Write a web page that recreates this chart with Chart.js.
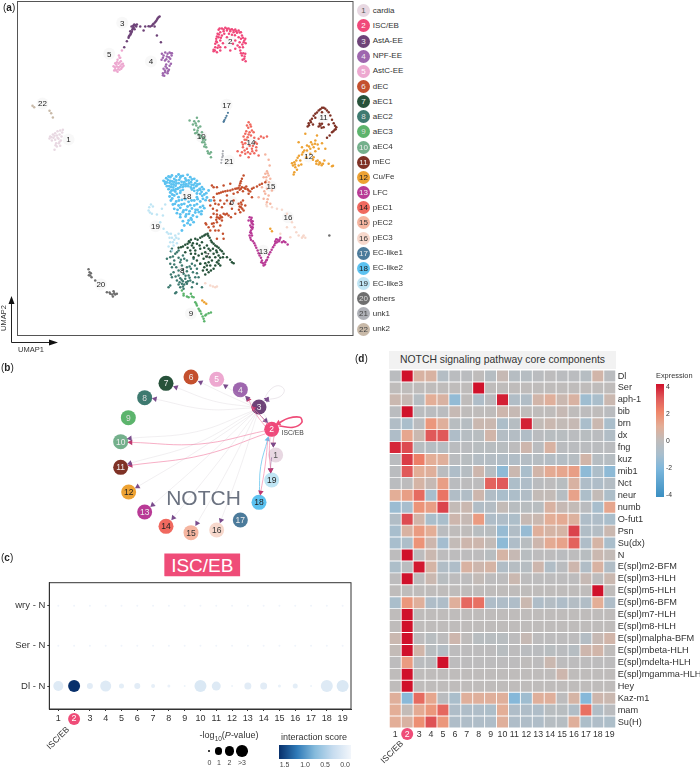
<!DOCTYPE html>
<html>
<head>
<meta charset="utf-8">
<script src="https://cdn.jsdelivr.net/npm/chart.js@4"></script>
<style>
  html, body { margin: 0; padding: 0; background: #fff; }
  #page { position: relative; width: 700px; height: 768px; overflow: hidden; font-family: "Liberation Sans", Arial, sans-serif; color: #333; }
  #page canvas { position: absolute; }
  .txt { position: absolute; white-space: nowrap; line-height: 1; }
  .dot { position: absolute; border-radius: 50%; text-align: center; }
</style>
</head>
<body>
<div id="page">
  <canvas id="umapChart" width="360" height="345" style="left:0;top:0"></canvas>
  <canvas id="netChart" width="240" height="220" style="left:100px;top:345px"></canvas>
  <canvas id="dotChart" width="356" height="155" style="left:0;top:575px"></canvas>
  <canvas id="heatChart" width="320" height="395" style="left:380px;top:360px"></canvas>
  <svg width="70" height="60" style="position:absolute;left:0;top:292px">
    <path d="M11.5 50.5V8M11.5 50.5H50" stroke="#222" stroke-width="1" fill="none"/>
    <path d="M11.5 4L8.5 12H14.5Z M58 50.5L49 47.5V53.5Z" fill="#111"/>
  </svg>
</div>
<script>
// cluster names and colours (shared by panels a, b)
const clusterNames = ['cardia','ISC/EB','AstA-EE','NPF-EE','AstC-EE','dEC','aEC1','aEC2','aEC3','aEC4','mEC','Cu/Fe','LFC','pEC1','pEC2','pEC3','EC-like1','EC-like2','EC-like3','others','unk1','unk2'];
const clusterColors = ['#E8D8E2','#F0487A','#6E4378','#9E66AE','#EDA8D0','#C4502E','#27523A','#3E7A70','#5CB46C','#74B08C','#7F3226','#EDA233','#B93A96','#F0695F','#F5B5A0','#F7D8CC','#4C7B9B','#5CC2F0','#BFE5F4','#6E6E6E','#AEB0B6','#C8B9A8'];
const numberColors = ['#555','#fff','#eee','#eee','#fff','#eee','#eee','#ddd','#ddd','#eee','#eee','#222','#eee','#222','#333','#333','#eee','#222','#222','#ddd','#444','#444'];

// panel a: UMAP points
const umap1 = [[150,408],[158,402],[165,398],[172,392],[180,390],[186,396],[148,414],[160,412],[170,405],[178,402],[184,408],[165,418],[175,415],[155,420],[182,420],[168,428],[176,428],[180,436],[170,438],[163,448],[188,388],[154,410],[163,406],[172,412],[178,424],[166,434]];
const umap2 = [[655,88],[665,84],[675,82],[685,84],[695,86],[705,87],[715,90],[722,95],[652,100],[660,95],[670,92],[680,90],[690,92],[700,95],[710,97],[725,105],[735,115],[648,115],[655,110],[645,130],[650,125],[640,148],[645,140],[655,135],[660,120],[665,105],[730,125],[722,115],[728,140],[735,160],[732,175],[736,182],[725,165],[720,150],[712,135],[705,120],[660,150],[650,155],[675,140],[690,150],[705,145],[680,110],[695,103],[715,110],[736,128],[640,152],[668,128],[727,178],[658,84],[670,87],[680,85],[690,88],[700,90],[708,92],[718,96],[728,112],[732,120],[733,168],[729,158],[726,132],[718,125],[650,108],[656,102],[648,122],[652,142],[662,112],[672,100],[686,100],[704,104],[718,140],[722,158],[644,150],[660,140],[698,130]];
const umap3 = [[380,122],[385,112],[388,105],[392,98],[390,92],[396,88],[400,80],[405,74],[410,72],[398,84],[394,78],[403,86],[420,78],[435,78],[445,77],[455,76],[460,70],[467,62],[472,54],[478,48],[463,78],[470,105],[482,125],[372,140],[430,90],[391,102],[395,94],[399,76],[408,78],[402,72],[458,72],[464,66],[470,58],[475,50],[450,78],[386,108]];
const umap4 = [[485,160],[495,156],[508,156],[514,165],[488,172],[500,168],[510,175],[494,180],[505,183],[512,190],[498,192],[490,205],[500,203],[506,208],[488,218],[495,215],[502,218],[492,226],[515,158],[484,178],[490,165],[502,160],[512,158],[506,170],[498,176],[508,196],[496,198],[494,210],[503,212],[488,224]];
const umap5 = [[365,150],[360,172],[352,178],[362,182],[345,188],[355,190],[368,190],[340,197],[350,198],[360,197],[370,196],[345,206],[354,206],[363,205],[342,210],[352,214],[358,172],[348,192],[356,165],[350,185],[358,186],[364,192],[344,200],[355,200],[348,210],[358,208],[366,200]];
const umap6 = [[640,590],[650,580],[662,576],[675,572],[690,570],[705,565],[715,562],[725,560],[735,565],[745,570],[755,565],[770,558],[785,550],[795,545],[720,548],[725,535],[730,525],[712,575],[700,580],[680,585],[745,580],[755,590],[635,555],[650,560],[670,555],[690,550],[660,600],[645,610],[638,625],[650,630],[665,620],[680,600],[640,640],[650,650],[660,645],[670,640],[680,640],[692,650],[650,665],[635,670],[625,680],[640,678],[655,690],[668,700],[670,715],[650,715],[715,610],[722,620],[730,630],[720,635],[728,600],[735,615],[640,560],[628,600],[632,650],[616,668],[690,610],[705,640],[665,660],[645,690],[718,568],[728,572],[738,558],[665,650],[658,655],[724,612],[656,578],[668,574],[682,571],[697,567],[710,564],[722,565],[732,562],[742,566],[750,573],[760,562],[778,553],[718,555],[722,542],[655,652],[662,650],[675,642],[685,645],[640,668],[648,658],[718,618],[726,625],[716,628],[722,606],[630,615],[642,600],[655,612],[672,610],[650,642],[618,672],[630,690],[660,675],[700,600],[695,625]];
const umap7 = [[535,742],[548,738],[562,730],[572,718],[585,715],[600,712],[612,705],[622,700],[628,712],[635,725],[645,735],[655,742],[665,752],[670,760],[660,772],[650,785],[660,795],[640,805],[625,815],[615,822],[575,735],[590,730],[605,725],[620,735],[600,745],[585,750],[570,750],[555,755],[615,755],[630,750],[640,760],[610,775],[625,785],[635,780],[620,795],[645,770],[595,765],[580,770],[600,790],[612,800],[680,770],[690,778],[700,788],[695,785],[568,725],[578,728],[650,755],[655,765],[542,740],[555,733],[566,722],[592,718],[606,708],[616,702],[624,706],[632,720],[640,730],[650,738],[660,748],[668,770],[655,780],[645,795],[632,810],[620,808],[628,770],[618,768],[605,760],[590,780],[572,760],[562,742],[580,742],[598,735],[612,742],[625,745],[638,745],[648,750],[655,790],[630,795],[615,788],[608,810],[585,760]];
const umap8 = [[515,745],[525,760],[510,770],[522,780],[535,772],[548,765],[560,780],[575,790],[510,790],[528,800],[545,795],[560,800],[520,815],[535,825],[550,820],[565,825],[578,815],[590,805],[530,840],[545,850],[555,835],[570,840],[585,830],[540,860],[550,865],[560,850],[510,855],[505,860],[525,878],[600,790],[590,850],[605,860],[575,860],[515,830],[540,785],[500,775],[580,775],[595,830],[548,842],[556,826],[540,833],[563,842],[528,875],[512,752],[535,750],[518,768],[530,755],[542,778],[552,775],[515,800],[522,792],[535,810],[548,808],[560,812],[572,805],[526,828],[538,845],[552,852],[544,838],[558,845],[568,832],[578,845],[512,822],[568,798],[584,795],[590,818],[535,852],[548,858]];
const umap9 = [[545,870],[550,885],[565,890],[580,890],[585,905],[595,925],[603,940],[610,955],[612,962],[625,938],[632,936],[615,945],[572,880],[590,915],[550,880],[600,932],[607,948],[618,942],[560,888],[575,888],[588,910],[598,930]];
const umap10 = [[590,352],[582,362],[595,362],[578,372],[588,375],[600,378],[582,388],[592,390],[605,395],[585,398],[595,402],[610,410],[600,412],[612,425],[606,425],[618,440],[612,438],[622,452],[628,460],[632,470],[568,360],[632,455],[615,418],[586,368],[594,382],[590,396],[602,405],[608,418],[615,432],[624,458]];
const umap11 = [[965,322],[975,325],[955,330],[985,335],[945,340],[965,335],[935,355],[945,352],[925,368],[932,365],[922,378],[938,372],[990,345],[995,358],[1000,368],[1008,380],[1003,388],[995,395],[988,405],[980,412],[960,375],[965,370],[955,378],[970,380],[985,372],[960,326],[970,322],[950,336],[940,346],[930,360],[926,374],[980,330],[1004,376],[1006,386],[999,392],[958,370],[964,382]];
const umap12 = [[882,485],[875,488],[878,495],[885,500],[890,508],[882,515],[880,522],[895,495],[900,480],[892,472],[905,462],[912,450],[905,440],[920,435],[932,425],[945,420],[952,432],[940,440],[930,445],[945,452],[955,445],[965,428],[940,470],[948,482],[958,485],[968,490],[955,492],[972,480],[995,497],[985,490],[918,470],[895,425],[915,400],[950,405],[975,445],[612,905],[606,900],[618,910],[810,685],[815,692],[930,460],[903,492],[884,492],[888,480],[896,466],[936,432],[926,438],[944,430],[952,480],[960,488],[964,494],[948,490],[938,478],[998,496],[908,455],[920,450]];
const umap13 = [[748,650],[752,658],[755,668],[750,675],[756,685],[750,695],[755,705],[750,712],[758,722],[765,735],[772,750],[778,765],[785,780],[790,795],[795,785],[803,770],[810,755],[818,740],[825,728],[832,718],[840,712],[845,725],[855,725],[862,732],[825,722],[745,660],[757,680],[788,788],[753,664],[758,672],[752,690],[748,705],[783,785],[794,792],[830,725],[836,722],[850,722],[800,778],[754,652],[757,662],[753,680],[753,698],[752,718],[762,728],[768,742],[775,758],[782,772],[798,780],[806,762],[814,748],[822,734],[828,716],[838,718]];
const umap14 = [[745,365],[740,375],[752,378],[738,392],[748,395],[755,390],[730,408],[742,410],[752,405],[762,412],[775,415],[790,412],[800,408],[725,425],[735,428],[765,425],[770,430],[728,440],[740,445],[755,445],[768,440],[725,455],[735,460],[750,460],[762,458],[745,470],[720,465],[712,452],[775,465],[738,418],[760,395],[744,382],[750,372],[735,400],[745,402],[733,418],[758,436],[748,436],[733,450],[743,455],[756,452],[768,450],[782,408],[728,432]];
const umap15 = [[795,462],[805,478],[808,495],[800,512],[795,520],[805,525],[790,530],[810,535],[798,540],[785,560],[800,565],[795,580],[805,585],[790,595],[800,605],[810,610],[815,570],[775,590],[802,518],[798,530],[806,545],[792,572],[802,596]];
const umap16 = [[800,617],[815,620],[830,625],[845,628],[860,640],[875,665],[883,680],[888,695],[895,705],[908,708],[915,712],[870,710],[860,680],[630,855],[645,860],[650,858],[615,848],[798,612],[840,700],[910,705],[905,712],[638,858]];
const umap17 = [[670,364],[673,358],[676,352],[679,346],[683,337],[671,362]];
const umap18 = [[515,525],[535,522],[548,526],[562,523],[498,533],[510,530],[522,535],[540,531],[555,534],[570,530],[582,535],[490,541],[503,538],[516,543],[528,540],[544,544],[558,540],[572,545],[590,541],[495,550],[508,547],[520,552],[535,548],[550,552],[566,549],[580,553],[598,550],[500,557],[512,560],[526,556],[540,560],[556,557],[572,561],[588,557],[605,560],[505,566],[520,569],[532,565],[548,568],[575,567],[592,570],[610,566],[510,576],[525,573],[540,577],[590,579],[604,574],[618,578],[508,588],[522,585],[535,590],[590,590],[606,586],[620,591],[512,600],[528,603],[545,598],[565,604],[582,600],[600,603],[616,599],[518,612],[535,615],[552,610],[570,614],[590,611],[608,616],[522,625],[540,622],[558,628],[575,624],[592,628],[612,623],[530,638],[548,635],[566,640],[585,636],[603,641],[540,650],[556,648],[572,653],[590,649],[548,662],[565,660],[580,665],[552,675],[570,673],[625,570],[632,600],[545,690],[505,528],[528,528],[542,527],[575,537],[494,544],[510,541],[522,544],[537,538],[552,545],[565,540],[585,548],[500,546],[514,552],[528,549],[543,553],[558,551],[574,553],[592,552],[507,557],[519,561],[534,563],[548,559],[564,557],[581,562],[598,565],[514,570],[527,566],[541,571],[582,571],[600,568],[516,582],[530,580],[600,580],[612,582],[516,594],[536,600],[555,596],[574,600],[592,596],[608,595],[524,610],[544,612],[562,618],[582,615],[600,620],[532,628],[550,630],[568,632],[586,628],[604,632],[540,642],[558,642],[578,645],[596,635],[562,668],[574,658]];
const umap19 = [[447,620],[452,612],[445,630],[455,640],[470,642],[485,625],[495,612],[488,645],[480,665],[490,685],[505,700],[515,712],[525,705],[535,715],[510,725],[520,735],[530,728],[505,738],[515,750],[535,700],[458,618],[449,636],[512,700],[522,718],[508,712],[518,725],[528,712],[500,695]];
const umap20 = [[265,806],[268,815],[270,825],[274,830],[285,840],[320,875],[330,880],[340,872],[345,882],[338,888],[350,880],[987,705],[272,818],[266,824],[328,876],[342,878],[336,882]];
const umap21 = [[668,452],[667,460],[666,470],[664,478],[663,487],[668,466]];
const umap22 = [[97,316],[102,320],[148,331],[153,338],[158,351]];
const umapClusters = [umap18,umap19,umap1,umap2,umap3,umap4,umap5,umap6,umap7,umap8,umap9,umap10,umap11,umap12,umap13,umap14,umap15,umap16,umap17,umap20,umap21,umap22];
const umapClusterIds = [18,19,1,2,3,4,5,6,7,8,9,10,11,12,13,14,15,16,17,20,21,22];
const umapLabelPos = [[205,417],[690,122],[366,67],[452,183],[327,160],[694,604],[622,763],[546,809],[572,939],[603,408],[970,350],[925,468],[789,751],[752,426],[812,557],[863,650],[679,313],[560,586],[466,677],[302,852],[686,481],[127,309]];
const umapLabels = ['1','2','3','4','5','6','7','8','9','10','11','12','13','14','15','16','17','18','19','20','21','22'];

// panel b: network nodes (cluster 1..19) and edges (from, via, to)
const netNodes = [[827,345],[815,268],[777,201],[721,149],[650,118],[573,111],[498,130],[434,173],[385,233],[362,305],[362,382],[386,456],[434,516],[498,559],[573,578],[650,570],[721,540],[777,487],[815,420]];
const grayEdges = [
  [[760,192],[750,182],[742,174]],[[755,195],[715,165],[677,138]],[[755,198],[675,162],[602,127]],[[755,201],[640,183],[528,142]],
  [[755,204],[620,208],[465,177]],[[760,212],[590,275],[390,295]],[[757,216],[590,310],[390,370]],[[760,220],[580,340],[413,440]],
  [[762,218],[605,365],[458,495]],[[765,222],[640,385],[520,533]],[[768,222],[680,395],[591,550]],[[772,222],[720,385],[663,541]],
  [[790,220],[820,270],[820,313]],[[790,195],[805,180],[800,178]]
];
const loop3 = [[790,182],[810,150],[835,137],[853,150],[840,170],[802,179]];
const loop2 = [[838,258],[880,262],[905,248],[900,232],[865,235],[835,250]];
const pinkEdges = [
  [[797,272],[600,312],[392,307]],[[797,281],[610,345],[392,376]],[[795,258],[770,225],[745,178]],[[803,255],[780,225],[760,205]],
  [[822,290],[820,300],[820,313]],[[810,292],[808,340],[812,390]],[[804,294],[795,380],[782,457]]
];
const blueEdges = [[[778,462],[782,380],[803,298]]];
const purpleEdges = [[[770,215],[785,230],[797,242]],[[815,352],[812,375],[812,390]]];

// panel c: dot plot
const dotXLabels = ['1','2','3','4','5','6','7','8','9','10','11','12','13','14','15','16','17','18','19'];
const dotYLabels = ['Dl - N','Ser - N','wry - N'];
const dlLogP = [2.4,3,1.2,2.7,0.9,1.2,0.6,0.3,0,3,2.1,0,1.5,1.5,0.3,0.9,0,3,3];
const dlScore = [0.15,1.5,0.12,0.15,0.1,0.12,0.08,0.05,0.03,0.18,0.15,0.03,0.12,0.12,0.06,0.1,0.03,0.15,0.18];
const serLogP = [0,0,0,0,0,0,0,0,0,0,0,0,0,0,0,0,0,0,0];
const serScore = [0.01,0.01,0.01,0.01,0.01,0.01,0.01,0.01,0.01,0.01,0.01,0.01,0.01,0.01,0.01,0.01,0.01,0.01,0.01];
const wryLogP = [0,0,0,0,0,0,0,0,0,0,0,0,0,0,0,0,0,0,0];
const wryScore = [0.01,0.01,0.01,0.01,0.01,0.01,0.01,0.01,0.01,0.01,0.01,0.01,0.01,0.01,0.01,0.01,0.01,0.01,0.01];

// panel d: heat map
const heatRows = ['Dl','Ser','aph-1','bib','brn','dx','fng','kuz','mib1','Nct','neur','numb','O-fut1','Psn','Su(dx)','N','E(spl)m2-BFM','E(spl)m3-HLH','E(spl)m5-HLH','E(spl)m6-BFM','E(spl)m7-HLH','E(spl)m8-HLH','E(spl)malpha-BFM','E(spl)mbeta-HLH','E(spl)mdelta-HLH','E(spl)mgamma-HLH','Hey','Kaz-m1','mam','Su(H)'];
const heatValues = [
  [-.2,4,.7,.7,-.5,-.2,-.2,0,-.4,.2,-.4,-.4,-.2,-.1,-.2,-.2,-.4,.5,-.2],
  [0,0,0,0,0,0,0,4,0,0,0,0,0,0,0,0,0,0,0],
  [.3,.2,-.4,1,.7,-1.5,0,-.7,-.2,3.8,-.6,-.6,.5,.9,.3,.7,-1.2,-.9,.3],
  [-.2,4,-.2,-.2,-.2,.2,0,0,0,.4,.2,0,0,0,.2,0,-.1,0,-.2],
  [-.6,-.9,-.2,1.6,.9,-.3,-.4,.3,.3,-.8,-.4,3.8,.1,.3,.1,.2,-.9,.3,-.9],
  [-.7,1.2,.3,3,3,-.7,-.4,-.3,.5,-.5,-.5,-.6,-.2,-.3,-.3,-.2,-.3,-.2,-.6],
  [3.7,3.2,-.3,-.4,-.4,-.2,-.2,-.3,-.3,-.3,-.1,.4,-.2,.7,-.2,-.2,-.2,-.2,-.2],
  [-.2,3.4,2.2,1,.9,-.2,-.3,-.5,-.5,-.6,-.6,-.5,-.4,-.5,-.5,-.4,.5,-.4,-.4],
  [-.2,3,1,.9,-.2,-.7,-.4,.4,-.4,-1.6,.3,-.9,.5,1.1,1.2,1.4,-1.6,-.8,-1.6],
  [-.2,-.1,.6,.2,1.4,-.2,-.1,-.1,2.8,3,-.8,-.7,-.2,-.1,-.3,.7,-.7,-.7,-.5],
  [1,1.4,2.6,-1,2.4,-.6,-.6,.4,-.6,-.9,-.8,-.6,.1,.1,-.4,1.3,-.8,.1,-.8],
  [-1.3,-1,1.7,1.4,3.3,.1,.3,-.6,-.5,.1,-.3,-.3,-.3,.7,.2,.1,-.2,-1,1.2],
  [-.6,3.2,.5,-.9,-.9,.4,.2,1.5,-.7,-.7,-.8,.2,.3,1,1.1,.8,-.7,-.7,-.9],
  [-1,.7,1.5,1,-.2,0,0,-.3,-.3,-1.4,-.6,-1.4,.9,.6,.6,3.3,-.6,-.5,.3],
  [-1,-.8,1.7,.4,-1.1,.1,.4,.4,.1,-1.6,-.7,-.3,.4,1.1,1.3,2.8,-.7,.6,-.9],
  [-.1,4,-.1,.3,-.1,-.1,-.1,-.1,-.3,.6,.2,-.3,-.1,-.1,-.2,-.1,-.3,.3,.1],
  [-.8,-.2,3.9,.6,-.6,-.7,.7,.4,.6,-.6,-.4,-.4,.4,-.6,-.2,.4,-.6,.7,-.6],
  [-.1,4,-.1,.3,-.3,-.1,-.1,.1,-.1,-.1,.3,-.1,-.1,-.1,-.1,-.1,.2,-.1,.3],
  [0,0,0,0,0,0,0,0,0,0,0,0,0,0,0,0,0,4,0],
  [-.9,1.6,.9,-.7,-.7,.9,2.7,2.5,-.7,-.7,-.7,.3,-.7,-.5,-.7,-.5,-.6,1,-.7],
  [0,4,0,0,0,0,0,0,0,0,0,0,0,0,0,0,0,0,0],
  [0,4,0,0,0,0,0,0,0,0,0,0,0,0,0,0,0,0,0],
  [.3,4,-.1,-.3,-.1,.4,0,-.3,-.3,-.3,-.1,.2,-.1,-.1,-.1,-.1,-.5,.2,.5],
  [.1,4,.5,-.3,-.5,-.1,-.1,-.1,-.1,-.3,-.1,-.2,-.2,-.3,-.2,-.4,.4,.5,0],
  [-.1,1.5,-.2,-.2,4,-.1,-.1,-.1,-.1,-.1,-.1,0,-.1,.3,-.1,-.1,-.1,-.1,-.1],
  [0,4,0,0,0,0,0,0,0,0,0,0,0,0,.4,0,0,0,0],
  [0,4,0,0,0,0,0,0,0,0,0,0,0,0,0,0,0,0,0],
  [.9,-1.7,2.6,1.2,-.2,-.9,.9,.9,.9,.9,-1.8,-1.2,.9,.9,-.1,.6,-1.8,.4,.3],
  [1,.1,1.1,1.6,2.7,-.7,-.7,-.7,-.8,1,-.7,-.7,-.7,-.3,-.3,-.6,2.5,-.6,-.2],
  [1,.7,1.8,3.1,1.6,-.7,-.7,-.7,-.7,.9,-.7,-.7,-.7,-.4,-.4,.9,-.8,-.7,-.8]
];

const FONT = '"Liberation Sans", Arial, sans-serif';
const PINK = '#EF4C78';
const page = document.getElementById('page');
Chart.defaults.animation = false;
Chart.defaults.responsive = false;
Chart.defaults.devicePixelRatio = 1;
Chart.defaults.font.family = FONT;
Chart.defaults.layout.autoPadding = false;
Chart.defaults.plugins.legend.display = false;
Chart.defaults.plugins.tooltip.enabled = false;

// text helper; ax = anchor as fraction of box width
function addText(html, x, y, size, opts = {}) {
  const el = document.createElement('div');
  el.className = 'txt';
  el.innerHTML = html;
  el.style.left = x + 'px';
  el.style.top = y + 'px';
  el.style.fontSize = size + 'px';
  if (opts.color) el.style.color = opts.color;
  const ax = opts.ax === undefined ? 0 : opts.ax;
  el.style.transform = `translate(${-ax * 100}%, -50%)` + (opts.rotate ? ` rotate(${opts.rotate}deg)` : '');
  page.appendChild(el);
  return el;
}

function lerpColor(stops, v) {
  for (let i = 1; i < stops.length; i++) {
    if (v <= stops[i][0]) {
      const t = (v - stops[i - 1][0]) / (stops[i][0] - stops[i - 1][0]);
      const a = stops[i - 1][1], b = stops[i][1];
      return `rgb(${a.map((c, k) => Math.round(c + (b[k] - c) * t)).join(',')})`;
    }
  }
  return `rgb(${stops[stops.length - 1][1].join(',')})`;
}

// draws ds.pointTexts on top of each point
const pointTextPlugin = {
  id: 'pointText',
  afterDatasetsDraw(chart) {
    const ctx = chart.ctx;
    chart.data.datasets.forEach((ds, i) => {
      if (!ds.pointTexts) return;
      ctx.save();
      ctx.textAlign = 'center';
      ctx.textBaseline = 'middle';
      ctx.font = `${ds.textSize || 8}px ${FONT}`;
      chart.getDatasetMeta(i).data.forEach((el, j) => {
        ctx.fillStyle = ds.textColors ? ds.textColors[j] : '#222';
        ctx.fillText(ds.pointTexts[j], el.x, el.y + 0.5);
      });
      ctx.restore();
    });
  }
};

// frame around the plot area
const framePlugin = {
  id: 'frame',
  afterDraw(chart, args, opts) {
    if (!opts.color) return;
    const a = chart.chartArea, ctx = chart.ctx;
    ctx.save();
    ctx.strokeStyle = opts.color;
    ctx.lineWidth = opts.width || 1;
    ctx.strokeRect(a.left, a.top, a.width, a.height);
    ctx.restore();
  }
};

// pink circle behind the "2" tick
const tickBadgePlugin = {
  id: 'tickBadge',
  beforeDraw(chart, args, opts) {
    if (opts.y === undefined) return;
    const ctx = chart.ctx;
    const x = chart.scales.x.getPixelForValue(opts.value);
    ctx.save();
    ctx.fillStyle = PINK;
    ctx.beginPath();
    ctx.arc(x, opts.y, 6, 0, Math.PI * 2);
    ctx.fill();
    ctx.restore();
  }
};

Chart.register(pointTextPlugin, framePlugin, tickBadgePlugin);

// ---- panel a ----
const umapDatasets = umapClusters.map((pts, i) => ({
  data: pts,
  pointRadius: umapClusterIds[i] === 18 ? 1.45 : (umapClusterIds[i] === 17 || umapClusterIds[i] === 21 ? 1.1 : 1.25),
  pointBackgroundColor: clusterColors[umapClusterIds[i] - 1],
  pointBorderWidth: 0
}));
umapDatasets.push({
  data: umapLabelPos,
  pointRadius: 6,
  pointBackgroundColor: 'rgba(245,245,245,0.7)',
  pointBorderWidth: 0,
  pointTexts: umapLabels,
  textSize: 8,
  textColors: umapLabels.map(() => '#222')
});

new Chart(document.getElementById('umapChart'), {
  type: 'scatter',
  data: { datasets: umapDatasets },
  options: {
    layout: { padding: { left: 17.5, right: 7, top: 1.5, bottom: 9.5 } },
    scales: {
      x: { display: false, min: 52, max: 1058 },
      y: { display: false, min: 3, max: 1005, reverse: true }
    },
    plugins: { frame: { color: '#555', width: 1 } }
  }
});

// legend of panel a
clusterNames.forEach((name, i) => {
  const y = 10.7 + i * 15.16;
  const c = document.createElement('div');
  c.className = 'dot';
  c.textContent = i + 1;
  c.style.cssText = `left:357px;top:${y - 6.5}px;width:13px;height:13px;line-height:13px;font-size:8px;background:${clusterColors[i]};color:${numberColors[i]}`;
  page.appendChild(c);
  addText(name, 372.7, y, 8, { color: '#333' });
});

addText('(<b>a</b>)', 3, 8, 10, { color: '#222' });
addText('(<b>b</b>)', 1, 368, 10, { color: '#222' });
addText('(<b>c</b>)', 1, 558, 10, { color: '#222' });
addText('(<b>d</b>)', 355, 359, 10, { color: '#222' });
addText('UMAP1', 31, 350, 7.5, { ax: 0.5 });
addText('UMAP2', 4, 318, 7.5, { ax: 0.5, rotate: -90 });

// ---- panel b ----
function edgeDataset(points, color, width, arrowColor, arrowSize) {
  const n = points.length;
  const a = points[n - 2], b = points[n - 1];
  const angle = Math.atan2(b[0] - a[0], -(b[1] - a[1])) * 180 / Math.PI;
  return {
    type: 'line',
    data: points,
    borderColor: color,
    borderWidth: width,
    tension: 0.4,
    fill: false,
    pointStyle: 'triangle',
    pointRadius: points.map((p, i) => (i === n - 1 ? arrowSize : 0)),
    pointRotation: angle,
    pointBackgroundColor: arrowColor,
    pointBorderWidth: 0
  };
}
const netDatasets = [];
grayEdges.forEach(e => netDatasets.push(edgeDataset(e, 'rgba(190,180,190,0.35)', 0.6, '#7A4C8C', 3.2)));
netDatasets.push(edgeDataset(loop3, 'rgba(200,190,200,0.5)', 0.7, '#7A4C8C', 3.2));
pinkEdges.forEach(e => netDatasets.push(edgeDataset(e, 'rgba(242,120,160,0.75)', 0.8, '#C0396F', 3.2)));
blueEdges.forEach(e => netDatasets.push(edgeDataset(e, '#7CCDF0', 0.9, '#5CC2F0', 3.2)));
purpleEdges.forEach(e => netDatasets.push(edgeDataset(e, 'rgba(122,76,140,0.6)', 0.9, '#7A4C8C', 3.4)));
netDatasets.push(edgeDataset(loop2, PINK, 1.6, PINK, 3.6));
netDatasets.push({
  type: 'scatter',
  data: netNodes,
  pointRadius: 7.5,
  pointBackgroundColor: clusterColors.slice(0, 19),
  pointBorderWidth: 0,
  pointTexts: umapLabels.slice(0, 19),
  textSize: 8.5,
  textColors: numberColors.slice(0, 19)
});

new Chart(document.getElementById('netChart'), {
  type: 'scatter',
  data: { datasets: netDatasets },
  options: {
    layout: { padding: 0 },
    scales: {
      x: { display: false, min: 300, max: 1020 },
      y: { display: false, min: 15, max: 675, reverse: true }
    }
  }
});

addText('ISC/EB', 292.7, 433, 6.8, { ax: 0.5, color: '#444' });
addText('NOTCH', 203.5, 497, 21, { ax: 0.5, color: '#6B7280' });
const iscBox = addText('ISC/EB', 202.3, 565, 19, { ax: 0.5, color: '#fff' });
iscBox.style.background = PINK;
iscBox.style.padding = '2px 6.5px';
iscBox.style.boxSizing = 'border-box';

// ---- panel c ----
const scoreStops = [[0, [240, 245, 251]], [0.2, [216, 230, 243]], [0.5, [150, 196, 224]], [1, [60, 130, 190]], [1.5, [8, 48, 107]]];
function dotRadius(p) { return 1 + 5 * p / 3; }
function dotDataset(row, logP, score) {
  return {
    data: logP.map((p, i) => [i + 1, row]),
    pointRadius: logP.map(dotRadius),
    pointBackgroundColor: score.map(s => lerpColor(scoreStops, s)),
    pointBorderWidth: 0
  };
}

new Chart(document.getElementById('dotChart'), {
  type: 'scatter',
  data: { datasets: [dotDataset(1, dlLogP, dlScore), dotDataset(2, serLogP, serScore), dotDataset(3, wryLogP, wryScore)] },
  options: {
    layout: { padding: { top: 6, right: 5 } },
    scales: {
      x: {
        min: 0.43, max: 19.53,
        afterFit: s => { s.height = 21; },
        afterBuildTicks: s => { s.ticks = dotXLabels.map((l, i) => ({ value: i + 1 })); },
        grid: { drawOnChartArea: false, tickLength: 2, color: '#333' },
        border: { color: '#333' },
        ticks: {
          autoSkip: false, maxRotation: 0, padding: 2,
          font: { size: 9 },
          color: c => (c.index === 1 ? '#fff' : '#333'),
          callback: (v) => dotXLabels[v - 1]
        }
      },
      y: {
        min: 0.43, max: 3.57,
        afterFit: s => { s.width = 49.3; },
        afterBuildTicks: s => { s.ticks = dotYLabels.map((l, i) => ({ value: i + 1 })); },
        grid: { drawOnChartArea: false, tickLength: 2, color: '#333' },
        border: { color: '#333' },
        ticks: { padding: 2, font: { size: 9.5 }, color: '#333', callback: (v) => dotYLabels[v - 1] }
      }
    },
    plugins: { frame: { color: '#333', width: 1 }, tickBadge: { value: 2, y: 719 - 575 } }
  }
});

addText('ISC/EB', 58, 738, 8.5, { ax: 0.5, rotate: -45, color: '#333' });
addText('-log<sub style="font-size:6.5px">10</sub>(<i>P</i>-value)', 229, 737, 9, { ax: 0.5 });
addText('interaction score', 314, 737, 9, { ax: 0.5 });
[[209, 1.4], [218.7, 3.6], [229.7, 4.7], [242, 5.8]].forEach(d => {
  const el = document.createElement('div');
  el.className = 'dot';
  el.style.cssText = `left:${d[0] - d[1]}px;top:${751 - d[1]}px;width:${d[1] * 2}px;height:${d[1] * 2}px;background:#000`;
  page.appendChild(el);
});
[['0', 209.5], ['1', 219], ['2', 229.5], ['>3', 242]].forEach(t => addText(t[0].replace('>', '&gt;'), t[1], 762, 7, { ax: 0.5, color: '#444' }));
const scoreBar = document.createElement('div');
scoreBar.style.cssText = 'position:absolute;left:279px;top:745px;width:72px;height:14px;background:linear-gradient(to right,#08306b 0%,#2f7ab8 25%,#86bbdc 50%,#c7dcef 75%,#f2f6fb 100%)';
page.appendChild(scoreBar);
[['1.5', 284.5], ['1.0', 305], ['0.5', 325], ['0.0', 345]].forEach(t => addText(t[0], t[1], 764, 7, { ax: 0.5, color: '#444' }));

// ---- panel d ----
const heatStops = [[-4, [58, 143, 194]], [-2, [125, 183, 220]], [-1, [168, 190, 205]], [0, [191, 188, 187]], [1, [227, 174, 151]], [2, [240, 135, 106]], [3, [224, 89, 90]], [4, [208, 17, 43]]];
const heatCells = [];
const heatColors = [];
heatRows.forEach((row, r) => {
  dotXLabels.forEach((col, c) => {
    heatCells.push({ x: col, y: row });
    heatColors.push(lerpColor(heatStops, heatValues[r][c]));
  });
});

new Chart(document.getElementById('heatChart'), {
  type: 'scatter',
  data: { datasets: [{ data: heatCells, pointStyle: 'rect', pointRadius: 7.8, pointBackgroundColor: heatColors, pointBorderWidth: 0 }] },
  options: {
    layout: { padding: { left: 9.3, top: 10, right: 0 } },
    scales: {
      x: {
        type: 'category', labels: dotXLabels, offset: true,
        afterFit: s => { s.height = 27; },
        grid: { display: false, drawTicks: false }, border: { display: false },
        ticks: { autoSkip: false, maxRotation: 0, padding: 1, font: { size: 8.8 }, color: c => (c.index === 1 ? '#fff' : '#333') }
      },
      y: {
        type: 'category', labels: heatRows, offset: true, position: 'right',
        afterFit: s => { s.width = 84.3; },
        grid: { display: false, drawTicks: false }, border: { display: false },
        ticks: { autoSkip: false, padding: 2, font: { size: 9.2 }, color: '#333' }
      }
    },
    plugins: { tickBadge: { value: 1, y: 734 - 360 } }
  }
});

const heatTitle = addText('NOTCH signaling pathway core components', 502.5, 360, 10.4, { ax: 0.5, color: '#333' });
const titleBg = document.createElement('div');
titleBg.style.cssText = 'position:absolute;left:389px;top:351px;width:227px;height:18px;background:#F2F2F2';
page.insertBefore(titleBg, heatTitle);
addText('ISC/EB', 392, 752, 8.5, { ax: 0.5, rotate: -45, color: '#333' });
addText('Expression', 656, 376, 7.4, { color: '#333' });
const exprBar = document.createElement('div');
exprBar.style.cssText = 'position:absolute;left:656px;top:384.3px;width:7.7px;height:112.7px;background:linear-gradient(to bottom,#D0112B 0%,#E0595A 12.5%,#F0876A 25%,#E3AE97 37.5%,#BFBCBB 50%,#A8BECD 62.5%,#7DB7DC 75%,#3A8FC2 100%)';
page.appendChild(exprBar);
[['4', 387], ['2', 414], ['0', 441], ['-2', 468], ['-4', 495]].forEach(t => addText(t[0], 666, t[1], 6.8, { color: '#333' }));
</script>
</body>
</html>
